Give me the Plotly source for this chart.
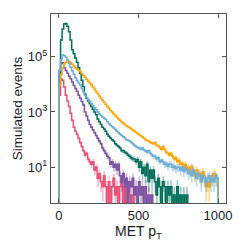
import numpy as np
import plotly.graph_objects as go

bin_edges = list(range(0, 1010, 10))

orange = [8900, 22400, 39800, 56200, 63100, 66100, 66100, 60300, 52500, 45700,
          39800, 34700, 31600, 28800, 24500, 20900, 17800, 15100, 12900, 11200,
          9550, 7940, 6610, 5500, 4570, 3800, 3160, 2630, 2240, 1900,
          1580, 1350, 1150, 1000, 851, 741, 646, 562, 501, 437,
          398, 355, 316, 295, 269, 240, 224, 200, 182, 166,
          151, 138, 126, 112, 100, 93, 89, 79, 76, 71,
          79, 63, 60, 52, 45, 56, 45, 35, 32, 28,
          32, 25, 20, 22, 16, 18, 13, 14, 10, 13,
          9, 10, 8, 11, 7, 5, 8, 6, 6, 4,
          7, 5, 2, 3, 2, 4, 5, 6, 4, 4]

light_blue = [31600, 79400, 115000, 110000, 95500, 75900, 57500, 41700, 30200, 22900,
              17400, 13800, 11200, 9330, 7080, 5250, 3980, 3310, 2820, 2400,
              2000, 1660, 1410, 1200, 1000, 851, 741, 661, 603, 537,
              447, 380, 331, 295, 263, 234, 200, 178, 158, 141,
              126, 112, 100, 95, 89, 79, 71, 63, 56, 52,
              50, 45, 50, 42, 40, 35, 40, 32, 28, 25,
              25, 20, 22, 16, 18, 16, 13, 14, 11, 13,
              13, 10, 11, 9, 10, 10, 8, 10, 7, 9,
              8, 6, 7, 5, 8, 6, 4, 6, 5, 3,
              5, 4, 3, 4, 5, 3, 4, 3, 5, 4]

green = [20000, 398000, 1000000, 1500000, 1580000, 1260000, 794000, 398000, 178000, 126000,
         89100, 63100, 39800, 25100, 14100, 8320, 4470, 3160, 2510, 2000,
         1580, 1260, 1000, 794, 562, 447, 355, 282, 240, 200,
         158, 132, 115, 100, 89, 71, 63, 56, 50, 40,
         40, 35, 32, 28, 25, 22, 20, 20, 16, 19,
         10, 16, 6, 10, 5, 13, 3, 8, 4, 8,
         3, 1, 4, 2, 0, 3, 2, 0, 2, 1,
         2, 0, 1, 0, 2, 0, 1, 0, 1, 0,
         1, 0, 0, 0, 0, 0, 0, 0, 0, 0,
         0, 0, 0, 0, 0, 0, 0, 0, 0, 0]

purple = [31600, 56200, 60300, 39800, 31600, 25100, 20000, 15800, 12000, 9120,
          7080, 5620, 3980, 3160, 2400, 1780, 1000, 708, 501, 355,
          282, 224, 178, 141, 112, 89, 71, 50, 40, 32,
          25, 22, 13, 16, 10, 13, 8, 13, 5, 3,
          6, 2, 4, 0, 3, 2, 4, 1, 2, 0,
          3, 1, 2, 0, 2, 0, 1, 0, 1, 0,
          0, 0, 0, 0, 0, 0, 0, 0, 0, 0,
          0, 0, 0, 0, 0, 0, 0, 0, 0, 0,
          0, 0, 0, 0, 0, 0, 0, 0, 0, 0,
          0, 0, 0, 0, 0, 0, 0, 0, 0, 0]

pink = [4000, 15800, 14100, 7940, 3980, 2510, 1580, 891, 501, 282,
        200, 158, 112, 79, 56, 40, 28, 32, 20, 16,
        13, 16, 8, 10, 4, 6, 3, 2, 5, 2,
        0, 3, 0, 2, 4, 1, 2, 0, 2, 3,
        0, 2, 0, 2, 1, 0, 1, 0, 0, 0,
        0, 0, 0, 0, 0, 0, 0, 0, 0, 0,
        0, 0, 0, 0, 0, 0, 0, 0, 0, 0,
        0, 0, 0, 0, 0, 0, 0, 0, 0, 0,
        0, 0, 0, 0, 0, 0, 0, 0, 0, 0,
        0, 0, 0, 0, 0, 0, 0, 0, 0, 0]

series = [
    ("pink", pink, "#ef4f75", "rgba(239,79,117,0.40)"),
    ("purple", purple, "#7b51a1", "rgba(123,81,161,0.40)"),
    ("green", green, "#00705a", "rgba(0,112,90,0.40)"),
    ("orange", orange, "#ffa600", "rgba(255,166,0,0.45)"),
    ("light_blue", light_blue, "#6aaed6", "rgba(106,174,214,0.45)"),
]

FLOOR = 1e-2

def step_xy(edges, vals):
    v = np.asarray(vals, dtype=float)
    v = np.where(v > 0, v, FLOOR)
    x = [edges[0]] + list(edges[:-1]) + [edges[-1], edges[-1]]
    y = [FLOOR] + list(v) + [v[-1], FLOOR]
    return x, y

fig = go.Figure()
edges = np.array(bin_edges, dtype=float)
for name, vals, col, band in series:
    v = np.asarray(vals, dtype=float)
    err = np.sqrt(v)
    lo = np.where(v - err > 0, v - err, FLOOR)
    hi = np.where(v > 0, v + err, FLOOR)
    xl, yl = step_xy(edges, lo)
    xh, yh = step_xy(edges, hi)
    fig.add_trace(go.Scatter(x=xl, y=yl, mode="lines", line=dict(width=0, shape="hv"),
                             hoverinfo="skip", showlegend=False))
    fig.add_trace(go.Scatter(x=xh, y=yh, mode="lines", line=dict(width=0, shape="hv"),
                             fill="tonexty", fillcolor=band, hoverinfo="skip", showlegend=False))
    xs, ys = step_xy(edges, v)
    fig.add_trace(go.Scatter(x=xs, y=ys, mode="lines", name=name,
                             line=dict(color=col, width=1.5, shape="hv"), showlegend=False))

FONT = "Liberation Sans, Arial, sans-serif"
tick_font = dict(family=FONT, size=13, color="#1a1a1a")

fig.update_layout(
    width=249, height=249,
    margin=dict(l=51, r=23, t=14, b=46),
    paper_bgcolor="white", plot_bgcolor="white",
    font=tick_font,
    showlegend=False,
)
fig.update_xaxes(
    range=[-50, 1050], tickvals=[0, 500, 1000], ticktext=["0", "500", "1000"],
    ticks="inside", ticklen=4, tickcolor="#555", showline=True, linecolor="#555",
    linewidth=1, mirror="ticks", showgrid=False, zeroline=False, tickfont=tick_font,
    title=dict(text="MET p<sub>T</sub>", standoff=2,
               font=dict(family=FONT, size=14, color="#1a1a1a")),
)
fig.update_yaxes(
    type="log", range=[-0.29, 6.54], tickvals=[10, 1000, 100000],
    ticktext=["10<sup>1</sup>", "10<sup>3</sup>", "10<sup>5</sup>"],
    ticks="inside", ticklen=4, tickcolor="#555", showline=True, linecolor="#555",
    linewidth=1, mirror="ticks", showgrid=False, zeroline=False, tickfont=tick_font,
    title=dict(text="Simulated events", standoff=2,
               font=dict(family=FONT, size=13.5, color="#1a1a1a")),
)

fig.write_html("out.html", config={"displayModeBar": False},
               post_script="document.body.style.margin='0px';")
